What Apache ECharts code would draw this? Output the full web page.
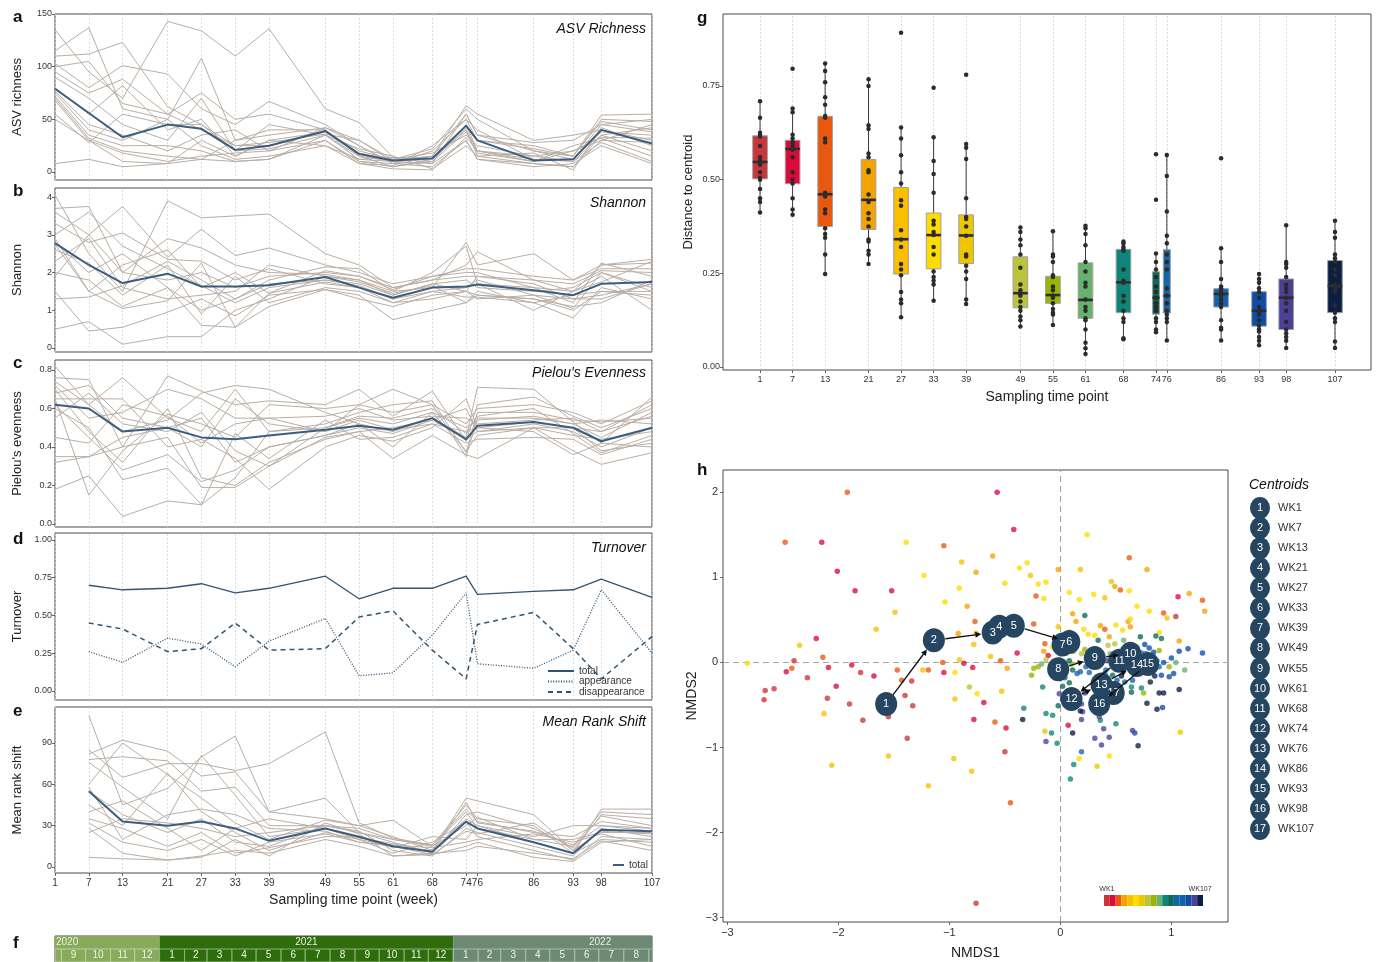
<!DOCTYPE html>
<html><head><meta charset="utf-8">
<script src="https://cdn.jsdelivr.net/npm/echarts@6/dist/echarts.min.js"></script>
<style>html,body{margin:0;padding:0;background:#fff}#c{width:1380px;height:962px}</style>
</head><body><div id="c"></div>
<script>
const FF = '"Liberation Sans", Arial, Helvetica, sans-serif';

// ---------- sampling weeks ----------
const weeks = [1,7,13,21,27,33,39,49,55,61,68,74,76,86,93,98,107];
const weeksShift = weeks.slice(1);

// ---------- panel a: ASV richness ----------
const asvMean = [79,56,33,45,41,21,25,39,17,11,13,44,30,11,12,40,27];
const asvLines = [
[135,95,70,143,134,110,136,60,47,14,12,40,20,12,10,35,42],
[115,137,60,50,108,30,35,42,30,10,8,55,35,20,12,45,50],
[110,112,123,62,45,25,25,38,20,12,15,63,55,30,35,40,30],
[103,80,101,93,60,45,67,45,25,8,20,50,30,25,15,54,55],
[95,75,88,55,75,50,55,40,15,5,10,45,20,10,20,30,45],
[90,70,45,30,70,20,45,35,12,10,12,40,15,8,5,35,20],
[80,55,82,40,50,15,30,38,18,12,18,35,25,15,10,28,10],
[77,45,35,20,35,40,20,30,10,8,5,30,12,5,8,25,8],
[75,40,30,50,25,12,15,25,8,6,25,50,40,12,12,38,35],
[72,35,25,25,20,10,12,35,22,15,3,25,15,18,2,42,25],
[70,32,20,15,12,30,40,40,10,5,12,42,30,22,15,48,40],
[68,30,18,10,15,18,20,42,25,8,10,38,18,10,25,32,15],
[55,28,55,45,45,20,22,35,15,10,15,55,35,28,30,45,38],
[50,30,10,8,30,15,30,25,12,14,8,30,12,8,5,30,28],
[8,12,5,8,12,10,12,30,8,3,2,33,20,15,20,33,32],
[100,105,65,55,40,25,28,36,30,12,22,60,50,20,15,50,48]
];

// ---------- panel b: Shannon ----------
const shannonMean = [2.78,2.2,1.72,1.97,1.63,1.63,1.66,1.88,1.6,1.33,1.6,1.63,1.68,1.53,1.4,1.7,1.75];
const shannonLines = [
[4.05,2.5,1.5,3.9,3.45,3.5,3.55,2.5,2.2,1.6,1.8,2.2,2.55,1.8,1.5,2.2,2.35],
[3.7,3.75,2.0,2.9,2.65,2.2,2.0,1.95,1.8,1.5,1.6,2.8,2.2,2.5,1.8,2.1,2.1],
[3.6,3.0,3.75,2.4,3.15,2.45,2.65,2.2,2.0,1.7,1.9,2.0,2.0,1.6,1.2,2.25,1.9],
[3.3,2.8,3.05,2.35,2.3,1.8,2.1,1.7,1.6,1.3,1.5,1.6,1.8,1.4,1.05,2.0,1.5],
[3.0,3.6,2.7,2.1,1.65,1.2,1.6,1.8,1.7,1.4,1.7,1.5,1.9,1.7,1.3,1.3,1.7],
[2.9,1.5,1.05,1.25,2.25,0.55,1.1,1.55,1.4,0.75,1.0,1.2,1.5,1.2,0.8,1.6,1.3],
[2.8,2.0,2.5,1.6,1.0,1.3,1.8,2.15,2.1,1.5,2.0,2.7,1.7,1.0,1.5,1.9,1.0],
[2.6,2.25,1.4,2.2,0.9,1.9,1.2,1.6,1.5,1.2,1.3,1.5,1.4,1.3,1.1,1.2,1.8],
[2.3,2.9,1.6,1.3,1.4,1.5,2.2,1.9,1.8,1.4,1.7,1.8,1.6,1.5,1.6,2.0,1.6],
[2.0,1.8,1.1,1.6,0.6,0.55,1.45,1.75,1.6,1.2,1.5,1.35,1.35,1.2,1.4,1.5,1.5],
[1.9,3.0,2.0,1.8,2.0,1.6,1.9,2.0,1.9,1.6,1.8,1.9,1.9,1.8,1.7,2.05,2.0],
[1.5,0.45,0.55,0.95,1.3,0.85,1.4,1.55,1.3,1.1,1.4,1.5,1.3,1.4,1.3,1.4,1.7],
[1.3,1.35,1.65,2.3,1.8,1.3,1.7,1.8,1.65,1.3,1.6,1.6,1.7,1.6,1.5,1.75,2.3],
[0.5,0.7,0.1,0.3,0.3,1.0,1.3,1.9,1.75,1.45,1.65,1.2,1.4,1.3,1.0,1.5,1.4],
[2.75,1.5,2.2,2.6,1.6,2.0,1.45,2.05,1.9,1.55,1.9,2.1,2.1,1.9,1.8,2.2,2.25]
];

// ---------- panel c: Pielou's evenness ----------
const pielouMean = [0.62,0.60,0.48,0.50,0.45,0.44,0.46,0.49,0.51,0.49,0.55,0.44,0.51,0.53,0.50,0.43,0.50];
const pielouLines = [
[0.82,0.62,0.48,0.54,0.68,0.72,0.70,0.58,0.52,0.48,0.55,0.45,0.71,0.70,0.53,0.42,0.66],
[0.76,0.75,0.40,0.77,0.69,0.62,0.64,0.62,0.70,0.56,0.69,0.43,0.62,0.66,0.56,0.50,0.60],
[0.74,0.62,0.76,0.55,0.48,0.70,0.48,0.52,0.58,0.62,0.64,0.37,0.58,0.58,0.54,0.53,0.55],
[0.72,0.55,0.58,0.70,0.65,0.55,0.55,0.48,0.62,0.70,0.62,0.35,0.55,0.55,0.52,0.54,0.52],
[0.70,0.48,0.32,0.60,0.24,0.20,0.32,0.44,0.48,0.34,0.46,0.36,0.34,0.50,0.38,0.31,0.37],
[0.65,0.65,0.65,0.40,0.44,0.34,0.18,0.40,0.46,0.43,0.50,0.65,0.50,0.48,0.36,0.42,0.40],
[0.62,0.45,0.28,0.36,0.22,0.28,0.40,0.46,0.52,0.40,0.58,0.38,0.46,0.50,0.50,0.38,0.42],
[0.60,0.50,0.23,0.29,0.10,0.47,0.34,0.54,0.44,0.45,0.52,0.42,0.44,0.45,0.44,0.36,0.44],
[0.55,0.68,0.52,0.48,0.58,0.38,0.30,0.50,0.56,0.55,0.60,0.47,0.56,0.60,0.47,0.37,0.46],
[0.45,0.42,0.62,0.56,0.42,0.52,0.55,0.56,0.60,0.54,0.56,0.55,0.52,0.54,0.55,0.48,0.62],
[0.35,0.35,0.40,0.45,0.19,0.19,0.30,0.45,0.48,0.50,0.54,0.60,0.48,0.52,0.48,0.40,0.50],
[0.32,0.35,0.45,0.50,0.55,0.32,0.40,0.46,0.50,0.47,0.54,0.44,0.48,0.50,0.46,0.44,0.48],
[0.18,0.25,0.04,0.12,0.10,0.24,0.48,0.50,0.55,0.52,0.58,0.50,0.54,0.56,0.52,0.45,0.58],
[0.65,0.15,0.38,0.57,0.52,0.45,0.62,0.60,0.62,0.58,0.62,0.52,0.60,0.62,0.58,0.52,0.64],
[0.68,0.72,0.55,0.50,0.40,0.65,0.52,0.48,0.54,0.49,0.52,0.48,0.50,0.53,0.50,0.48,0.56]
];

// ---------- panel d: turnover (weeks 7..107) ----------
const turnTotal = [0.70,0.67,0.68,0.71,0.65,0.68,0.76,0.61,0.68,0.68,0.76,0.64,0.66,0.67,0.74,0.62];
const turnAppear = [0.26,0.19,0.35,0.31,0.16,0.33,0.48,0.10,0.12,0.37,0.65,0.18,0.15,0.27,0.67,0.25];
const turnDisapp = [0.45,0.41,0.26,0.28,0.45,0.27,0.28,0.49,0.53,0.27,0.08,0.44,0.52,0.28,0.08,0.36];

// ---------- panel e: mean rank shift (weeks 7..107) ----------
const rankMean = [55,33,30,33,28,19,28,22,15,11,33,28,18,10,27,26];
const rankLines = [
[110,45,57,80,95,40,50,25,20,15,40,28,20,15,40,38],
[85,65,75,75,70,75,98,32,21,16,45,35,30,10,42,42],
[82,92,84,66,69,40,35,30,22,12,50,48,38,12,38,35],
[78,80,77,55,58,30,30,25,18,10,38,40,28,14,37,30],
[76,58,35,81,52,22,28,20,15,12,35,30,22,30,30,28],
[60,90,67,50,32,20,34,30,34,15,30,36,20,20,25,25],
[55,38,25,35,18,15,30,26,12,8,28,25,15,8,28,22],
[45,30,68,40,25,12,25,20,10,18,33,22,12,5,22,20],
[35,28,15,25,10,14,22,22,14,22,20,30,18,10,20,18],
[32,18,12,20,8,18,24,18,16,14,18,20,24,18,24,15],
[28,10,5,8,12,10,20,15,8,10,12,15,10,6,19,12],
[25,35,32,28,22,25,30,28,20,16,42,33,25,22,33,28],
[7,6,5,7,20,8,32,24,8,9,15,18,7,4,18,20],
[58,20,38,42,38,28,26,18,15,9,26,24,32,12,26,24],
[40,48,28,12,28,35,28,21,17,11,47,32,26,16,30,26]
];

// ---------- panel f: calendar ----------
const calYears = ['2020','2021','2022'];
const calYearDays = [366,365,365];
const calMonthLabels = ['','9','10','11','12','1','2','3','4','5','6','7','8','9','10','11','12','1','2','3','4','5','6','7','8',''];
const calMonthYear = [0,0,0,0,0,1,1,1,1,1,1,1,1,1,1,1,1,2,2,2,2,2,2,2,2,2];
const calMonthDays = [8,30,31,30,31,31,28,31,30,31,30,31,31,30,31,30,31,31,28,31,30,31,30,31,31,30];
const calYearFill = ['#88ab5b','#2e6d0b','#6c8a73'];
const calMonthStroke = ['#bcd2a3','#8db378','#a9bdad'];

// ---------- panel g: distance to centroid ----------
const weekColors = ['#c8363a','#dc0a3c','#e8580f','#f5a300','#fbbf00','#ffdc00','#edc600','#bcc43c','#9bb400','#66b26c','#0f857a','#0b6a5a','#1466a8','#1460ad','#0c4ea6','#4b3f98','#0c1e42'];
const boxMin = [0.412,0.406,0.248,0.275,0.133,0.177,0.168,0.108,0.112,0.035,0.074,0.093,0.071,0.071,0.058,0.051,0.051];
const boxQ1  = [0.502,0.489,0.375,0.367,0.248,0.262,0.276,0.158,0.170,0.130,0.145,0.141,0.144,0.160,0.109,0.100,0.145];
const boxMed = [0.547,0.582,0.461,0.446,0.341,0.352,0.351,0.197,0.192,0.179,0.226,0.185,0.190,0.195,0.150,0.185,0.216];
const boxQ3  = [0.617,0.605,0.669,0.554,0.479,0.411,0.406,0.294,0.242,0.278,0.314,0.254,0.313,0.209,0.201,0.235,0.284];
const boxMax = [0.709,0.690,0.810,0.768,0.639,0.613,0.595,0.372,0.362,0.377,0.335,0.303,0.566,0.317,0.248,0.378,0.390];
const distDots = [
[0.709,0.665,0.625,0.62,0.615,0.59,0.56,0.55,0.545,0.54,0.52,0.505,0.50,0.475,0.45,0.44,0.412],
[0.796,0.69,0.68,0.62,0.61,0.60,0.59,0.582,0.58,0.56,0.52,0.50,0.49,0.45,0.42,0.406],
[0.81,0.79,0.76,0.72,0.70,0.67,0.665,0.61,0.60,0.465,0.455,0.42,0.41,0.37,0.355,0.345,0.30,0.248],
[0.768,0.75,0.645,0.635,0.57,0.56,0.525,0.52,0.46,0.44,0.41,0.395,0.375,0.34,0.335,0.31,0.30,0.275],
[0.892,0.639,0.61,0.565,0.52,0.49,0.445,0.43,0.365,0.34,0.32,0.275,0.26,0.245,0.20,0.18,0.17,0.133],
[0.745,0.613,0.55,0.515,0.465,0.39,0.38,0.36,0.352,0.32,0.30,0.255,0.24,0.23,0.22,0.177],
[0.78,0.595,0.585,0.555,0.45,0.40,0.395,0.375,0.35,0.30,0.295,0.27,0.255,0.235,0.18,0.168],
[0.372,0.36,0.34,0.325,0.30,0.265,0.22,0.205,0.195,0.19,0.175,0.16,0.15,0.135,0.125,0.108],
[0.362,0.30,0.295,0.28,0.245,0.24,0.215,0.205,0.19,0.185,0.17,0.155,0.145,0.14,0.112],
[0.377,0.37,0.355,0.325,0.28,0.255,0.225,0.215,0.18,0.16,0.15,0.13,0.125,0.10,0.065,0.05,0.035],
[0.335,0.33,0.32,0.315,0.31,0.26,0.23,0.225,0.19,0.175,0.15,0.13,0.12,0.077,0.074],
[0.568,0.446,0.303,0.28,0.26,0.24,0.215,0.20,0.185,0.17,0.16,0.15,0.13,0.12,0.10,0.093],
[0.566,0.51,0.415,0.35,0.33,0.30,0.28,0.26,0.21,0.19,0.17,0.15,0.14,0.13,0.12,0.071],
[0.557,0.317,0.28,0.235,0.215,0.21,0.20,0.195,0.19,0.18,0.17,0.16,0.125,0.105,0.10,0.071],
[0.248,0.235,0.225,0.21,0.20,0.185,0.16,0.15,0.14,0.125,0.11,0.10,0.095,0.08,0.07,0.058],
[0.378,0.28,0.275,0.265,0.24,0.22,0.21,0.20,0.185,0.17,0.15,0.12,0.10,0.09,0.08,0.07,0.051],
[0.39,0.36,0.345,0.30,0.29,0.28,0.26,0.245,0.22,0.21,0.20,0.165,0.145,0.13,0.12,0.068,0.051]
];

// ---------- panel h: NMDS ----------
const nmdsPoints = [
[[-2.4,0.02],[-2.28,-0.18],[-1.8,-0.12],[-2.1,-0.42],[-1.9,-0.49],[-2.66,-0.33],[-2.58,-0.31],[-2.67,-0.44],[-1.78,-0.68],[-1.55,-0.64],[-1.4,-0.39],[-1.34,-0.22],[-1.33,-0.51],[-1.38,-0.89],[-0.5,-1.05],[-0.76,-2.83],[1.04,0.54]],
[[-0.57,2.0],[-2.15,1.41],[-0.42,1.56],[-2.01,1.07],[-1.85,0.84],[-1.52,0.84],[-2.2,0.28],[-2.47,-0.11],[-2.09,-0.06],[-1.88,-0.03],[-1.68,-0.16],[-2.02,-0.28],[-1.05,-0.12],[-0.87,-0.01],[-0.79,-0.06],[-0.39,0.11],[-0.69,-0.47],[-0.78,-0.67],[-0.49,-0.77],[-0.11,0.08],[0.07,-0.74],[1.06,0.77]],
[[-1.92,2.0],[-2.48,1.41],[-1.05,1.37],[-2.42,-0.07],[-2.14,0.06],[-1.43,-0.21],[-1.47,-0.09],[-1.19,-0.09],[-1.06,0.0],[-0.77,0.48],[-0.54,0.02],[-0.59,-0.7],[-0.45,-1.65],[-0.22,0.78],[-0.24,0.45],[-0.14,0.22],[0.62,1.23],[0.54,0.85],[0.93,0.58],[1.28,0.73],[0.4,0.39]],
[[-0.61,1.25],[-0.76,1.06],[-0.02,1.09],[0.78,1.09],[0.49,0.89],[1.16,0.81],[1.3,0.6],[0.61,0.48],[-0.84,0.66],[-0.76,0.34],[-0.92,0.34],[-0.48,-0.07],[-0.15,0.13],[0.11,0.57],[0.14,0.48],[0.36,0.43],[0.44,0.3],[0.63,0.42],[1.07,0.25]],
[[-0.89,1.18],[-1.49,0.59],[-1.66,0.39],[-1.24,-0.09],[-0.78,0.21],[-0.63,0.07],[-0.53,-0.34],[-0.95,-0.43],[-0.8,-1.28],[-1.55,-1.1],[-2.06,-1.21],[-1.19,-1.45],[-2.13,-0.6],[0.18,1.09],[0.4,0.76]],
[[-1.39,1.41],[-0.3,1.17],[-1.23,1.02],[-0.37,1.11],[-0.13,0.94],[-0.2,0.92],[0.24,1.5],[-0.91,0.87],[-0.5,0.93],[-0.15,0.75],[0.08,0.82],[0.3,0.8],[0.17,0.74],[0.62,0.84],[0.69,0.66],[0.8,0.6],[0.63,0.51],[-1.04,0.71],[-2.82,-0.01],[-0.95,-0.12],[-0.75,-0.37],[-0.07,0.18],[0.08,0.36],[0.21,0.39],[0.25,0.33],[0.31,0.32],[0.5,0.44],[0.56,0.38],[0.89,0.35],[0.17,-1.13],[0.44,-1.1]],
[[-0.27,1.02],[0.46,0.95],[0.96,0.52],[-2.35,0.2],[-0.91,0.03],[-0.96,-1.13],[-0.14,-0.81],[0.33,-1.22],[1.08,-0.82],[-0.02,0.42],[0.0,0.2]],
[[-0.82,-0.29],[-0.13,0.03],[0.12,0.13],[0.43,0.2],[0.49,0.22],[0.19,0.1],[0.3,0.05],[-0.05,-0.1]],
[[-0.2,-0.05],[-0.24,-0.07],[-0.26,-0.15],[0.22,0.15],[0.89,0.14],[0.75,-0.36],[0.98,-0.05],[0.1,-0.02]],
[[-0.17,-0.02],[0.57,0.26],[1.12,-0.09],[1.04,0.0],[0.33,0.13],[0.69,0.18],[0.45,0.1]],
[[-0.16,-0.29],[-0.33,-0.54],[-0.13,-0.6],[-0.07,-0.62],[-0.08,-0.83],[-0.03,-0.95],[0.12,-1.2],[0.09,-1.37],[0.5,-0.72],[0.36,-0.68],[0.64,-0.29],[0.73,-0.3]],
[[0.22,0.55],[0.91,0.28],[0.86,0.31],[0.72,0.3],[0.62,0.17],[0.34,0.26],[0.08,0.02],[0.11,-0.09],[0.04,-0.18],[0.02,-0.28],[0.08,-0.24],[-0.02,-0.51],[0.64,-0.35],[0.47,-0.15]],
[[0.26,-0.12],[0.3,-0.04],[0.49,-0.05],[0.56,0.02],[0.59,0.07],[0.73,0.11],[0.82,0.05],[0.89,-0.05],[0.73,0.02],[0.19,-1.05]],
[[0.15,-0.13],[0.18,-0.11],[0.37,-0.17],[0.4,-0.13],[0.51,-0.21],[0.58,-0.23],[0.65,-0.21],[0.23,-0.05],[0.41,-0.09],[0.77,0.1],[0.87,0.02]],
[[1.0,0.05],[1.07,0.13],[1.15,0.16],[1.28,0.11],[0.76,0.21],[0.8,0.17],[0.84,0.12],[0.93,0.0],[0.81,-0.1],[0.75,-0.06],[0.91,-0.15],[0.98,-0.17],[1.02,-0.13],[0.92,-0.53],[0.67,-0.83]],
[[-0.13,-0.93],[0.31,-0.89],[0.37,-0.97],[0.39,-0.78],[0.44,-0.88],[0.65,-0.8],[0.35,-0.64],[0.2,-0.58],[0.19,-0.49],[0.22,-0.36],[-0.01,-0.37],[0.02,-0.43],[0.19,-0.67],[0.33,-0.53],[0.33,-0.19],[0.42,0.02]],
[[-0.34,-0.67],[0.11,-0.83],[0.7,-0.98],[0.78,-0.48],[0.87,-0.55],[0.89,-0.36],[0.93,-0.36],[1.07,-0.32],[0.81,-0.23],[0.85,-0.16],[0.55,-0.16],[0.83,-0.02],[0.18,-0.57]]
];
const centX = [-1.57,-1.14,-0.61,-0.55,-0.42,0.08,0.02,-0.02,0.31,0.63,0.53,0.10,0.37,0.69,0.79,0.35,0.48];
const centY = [-0.49,0.26,0.35,0.42,0.43,0.24,0.21,-0.08,0.05,0.10,0.02,-0.43,-0.26,-0.03,-0.02,-0.49,-0.36];
const centLabels = weeks.map(w => 'WK' + w);

// ================= build =================
const GREY = '#b9aea5', BLUE = '#3a5e80', CENT = '#254560', TURN = '#2f5575';
const grids = [
  {left:55, top:14, width:597, height:166},
  {left:55, top:188, width:597, height:164},
  {left:55, top:360, width:597, height:167},
  {left:55, top:533, width:597, height:167},
  {left:55, top:707, width:597, height:166},
  {left:55, top:936, width:597, height:28},
  {left:723, top:14, width:648, height:356},
  {left:723, top:470, width:505, height:452},
  {left:1250, top:498, width:20, height:341},
  {left:1104, top:895, width:99, height:11}
].map((g, i) => Object.assign(g, {show: [0,1,2,3,4,5,6,7].includes(i), borderColor:'#4a4a4a', borderWidth:1, containLabel:false}));

const tickStyle = {length:3, lineStyle:{color:'#444', width:0.8}};
const noLine = {show:false, onZero:false};
function leftX(gi, labels) {
  return {type:'value', gridIndex:gi, min:1, max:107, axisLine:noLine, splitLine:{show:false},
    axisTick: labels ? Object.assign({show:true, customValues:weeks}, tickStyle) : {show:false},
    axisLabel: labels ? {show:true, customValues:weeks, fontSize:10, color:'#333', margin:5, fontFamily:FF} : {show:false},
    name: labels ? 'Sampling time point (week)' : '', nameLocation:'middle', nameGap:20,
    nameTextStyle:{fontSize:14, color:'#222', fontFamily:FF}};
}
function yAx(gi, min, max, ticks, name, dec, gap) {
  return {type:'value', gridIndex:gi, min, max, axisLine:noLine, splitLine:{show:false},
    axisTick: Object.assign({show:true, customValues:ticks}, tickStyle),
    axisLabel: {customValues:ticks, fontSize:9, color:'#333', margin:3, fontFamily:FF,
      formatter: v => dec == null ? String(Math.round(v)) : Number(v).toFixed(dec)},
    name, nameLocation:'middle', nameGap: gap || 31, nameTextStyle:{fontSize:13, color:'#222', fontFamily:FF}};
}

const xAxes = [
  leftX(0,false), leftX(1,false), leftX(2,false), leftX(3,false), leftX(4,true),
  {type:'value', gridIndex:5, min:1, max:107, show:false},
  {type:'value', gridIndex:6, min:-5.83, max:113.64, axisLine:noLine, splitLine:{show:false},
    axisTick: Object.assign({show:true, customValues:weeks}, tickStyle),
    axisLabel:{customValues:weeks, fontSize:9, color:'#333', margin:5, fontFamily:FF},
    name:'Sampling time point', nameLocation:'middle', nameGap:20, nameTextStyle:{fontSize:14, color:'#222', fontFamily:FF}},
  {type:'value', gridIndex:7, min:-3.04, max:1.51, axisLine:noLine, splitLine:{show:false},
    axisTick: Object.assign({show:true, customValues:[-3,-2,-1,0,1]}, tickStyle),
    axisLabel:{customValues:[-3,-2,-1,0,1], fontSize:11, color:'#333', margin:5, fontFamily:FF,
      formatter: v => v < 0 ? '\u2212' + Math.abs(v) : String(v)},
    name:'NMDS1', nameLocation:'middle', nameGap:24, nameTextStyle:{fontSize:14, color:'#222', fontFamily:FF}},
  {type:'value', gridIndex:8, min:-1, max:1, show:false},
  {type:'category', gridIndex:9, data:centLabels, position:'top', axisLine:{show:false}, axisTick:{show:false},
    axisLabel:{interval:(i) => i === 0 || i === centLabels.length - 1, fontSize:7, color:'#333', margin:2, fontFamily:FF}}
];
const yAxes = [
  yAx(0, -7.6, 150, [0,50,100,150], 'ASV richness'),
  yAx(1, -0.106, 4.24, [0,1,2,3,4], 'Shannon'),
  yAx(2, -0.0156, 0.852, [0,0.2,0.4,0.6,0.8], "Pielou's evenness", 1),
  yAx(3, -0.06, 1.046, [0,0.25,0.5,0.75,1], 'Turnover', 2),
  yAx(4, -4.35, 116.1, [0,30,60,90], 'Mean rank shift'),
  {type:'value', gridIndex:5, min:0, max:2, show:false},
  yAx(6, -0.008, 0.942, [0,0.25,0.5,0.75], 'Distance to centroid', 2, 28),
  {type:'value', gridIndex:7, min:-3.05, max:2.26, axisLine:noLine, splitLine:{show:false},
    axisTick: Object.assign({show:true, customValues:[-3,-2,-1,0,1,2]}, tickStyle),
    axisLabel:{customValues:[-3,-2,-1,0,1,2], fontSize:11, color:'#333', margin:5, fontFamily:FF,
      formatter: v => v < 0 ? '\u2212' + Math.abs(v) : String(v)},
    name:'NMDS2', nameLocation:'middle', nameGap:24, nameTextStyle:{fontSize:14, color:'#222', fontFamily:FF}},
  {type:'category', gridIndex:8, data:centLabels, inverse:true, position:'right', axisLine:noLine, axisTick:{show:false},
    axisLabel:{fontSize:11, color:'#333', margin:8, fontFamily:FF}},
  {type:'value', gridIndex:9, min:0, max:1, show:false}
];

function vLines(extra) {
  return Object.assign({silent:true, symbol:'none', label:{show:false}, animation:false, z:1,
    lineStyle:{type:[2,2], color:'#d4d4d4', width:0.8},
    data: weeks.map(w => ({xAxis:w}))}, extra || {});
}

const series = [];
function addPanel(gi, xs, lines, mean, meanName) {
  lines.forEach((ln, k) => {
    const s = {type:'line', xAxisIndex:gi, yAxisIndex:gi, data: xs.map((w,i) => [w, ln[i]]),
      symbol:'none', silent:true, itemStyle:{color:GREY}, lineStyle:{color:GREY, width:1}, z:2};
    if (k === 0) s.markLine = vLines();
    series.push(s);
  });
  series.push({type:'line', name:meanName, xAxisIndex:gi, yAxisIndex:gi, data: xs.map((w,i) => [w, mean[i]]),
    symbol:'none', silent:true, itemStyle:{color:BLUE}, lineStyle:{color:BLUE, width:2}, z:5});
}
addPanel(0, weeks, asvLines, asvMean, 'meanA');
addPanel(1, weeks, shannonLines, shannonMean, 'meanB');
addPanel(2, weeks, pielouLines, pielouMean, 'meanC');

// panel d
series.push({type:'line', name:'total', xAxisIndex:3, yAxisIndex:3, data: weeksShift.map((w,i)=>[w, turnTotal[i]]),
  symbol:'none', itemStyle:{color:TURN}, lineStyle:{color:TURN, width:1.3}, z:5, markLine: vLines()});
series.push({type:'line', name:'appearance', xAxisIndex:3, yAxisIndex:3, data: weeksShift.map((w,i)=>[w, turnAppear[i]]),
  symbol:'none', itemStyle:{color:TURN}, lineStyle:{color:TURN, width:1.3, type:[1,1.6]}, z:5});
series.push({type:'line', name:'disappearance', xAxisIndex:3, yAxisIndex:3, data: weeksShift.map((w,i)=>[w, turnDisapp[i]]),
  symbol:'none', itemStyle:{color:TURN}, lineStyle:{color:TURN, width:1.5, type:[5,4]}, z:5});

addPanel(4, weeksShift, rankLines, rankMean, 'total ');

// panel f calendar
const monthCells = [];
let dacc = 0;
calMonthDays.forEach((n, i) => { monthCells.push([1 + dacc/7, 1 + (dacc + n)/7, i]); dacc += n; });
let daysBefore = 0;
for (let i = 0; i < calMonthDays.length && calMonthYear[i] === 0; i++) daysBefore += calMonthDays[i];
const yearCells = [];
let ys = 1 + daysBefore/7 - calYearDays[0]/7;
calYears.forEach((y, i) => { const ye = ys + calYearDays[i]/7; yearCells.push([ys, ye, i]); ys = ye; });

series.push({type:'custom', xAxisIndex:5, yAxisIndex:5, clip:true, silent:true, data: yearCells, encode:{x:[0,1]},
  renderItem: (params, api) => {
    const s = api.value(0), e = api.value(1), yi = api.value(2);
    const p0 = api.coord([s, 2]), p1 = api.coord([e, 1]);
    const c = (s + e) / 2;
    let tx, align;
    if (c < 1) { tx = api.coord([1, 1.5])[0] + 1; align = 'left'; } else { tx = api.coord([c, 1.5])[0]; align = 'center'; }
    const ty = api.coord([c, 1.5])[1];
    return {type:'group', children:[
      {type:'rect', shape:{x:p0[0], y:p0[1], width:p1[0]-p0[0], height:p1[1]-p0[1]}, style:{fill:calYearFill[yi]}},
      {type:'text', x:tx, y:ty, style:{text:calYears[yi], fill:'#e9efe2', fontSize:10, fontFamily:FF, align, verticalAlign:'middle'}}
    ]};
  }});
series.push({type:'custom', xAxisIndex:5, yAxisIndex:5, clip:true, silent:true, data: monthCells, encode:{x:[0,1]},
  renderItem: (params, api) => {
    const s = api.value(0), e = api.value(1), mi = api.value(2);
    const yi = calMonthYear[mi];
    const p0 = api.coord([s, 1]), p1 = api.coord([e, 0]);
    return {type:'group', children:[
      {type:'rect', shape:{x:p0[0], y:p0[1], width:p1[0]-p0[0], height:p1[1]-p0[1]}, style:{fill:calYearFill[yi], stroke:calMonthStroke[yi], lineWidth:1}},
      {type:'text', x:(p0[0]+p1[0])/2, y:(p0[1]+p1[1])/2, style:{text:calMonthLabels[mi], fill:'#eef3e8', fontSize:10, fontFamily:FF, align:'center', verticalAlign:'middle'}}
    ]};
  }});

// panel g boxes
const boxData = weeks.map((w, i) => [w, boxMin[i], boxQ1[i], boxMed[i], boxQ3[i], boxMax[i], i]);
series.push({type:'custom', xAxisIndex:6, yAxisIndex:6, silent:true, data: boxData, encode:{x:0, y:[1,5]}, z:3,
  markLine: vLines(),
  renderItem: (params, api) => {
    const i = api.value(6), w = api.value(0);
    let gap = 1e9;
    if (i > 0) gap = Math.min(gap, w - weeks[i-1]);
    if (i < weeks.length - 1) gap = Math.min(gap, weeks[i+1] - w);
    const half = Math.min(2.7, gap * 0.65) / 2;
    const pMin = api.coord([w, api.value(1)]), pQ1 = api.coord([w, api.value(2)]), pMed = api.coord([w, api.value(3)]),
          pQ3 = api.coord([w, api.value(4)]), pMax = api.coord([w, api.value(5)]);
    const xl = api.coord([w - half, 0])[0], xr = api.coord([w + half, 0])[0];
    return {type:'group', children:[
      {type:'line', shape:{x1:pMin[0], y1:pMin[1], x2:pMax[0], y2:pMax[1]}, style:{stroke:'#3a3a3a', lineWidth:1}},
      {type:'rect', shape:{x:xl, y:pQ3[1], width:xr-xl, height:pQ1[1]-pQ3[1]}, style:{fill:weekColors[i], stroke:'#a0a0a0', lineWidth:1}},
      {type:'line', shape:{x1:xl, y1:pMed[1], x2:xr, y2:pMed[1]}, style:{stroke:'#2e2e2e', lineWidth:2.6}}
    ]};
  }});
const dotData = [];
weeks.forEach((w, i) => distDots[i].forEach(v => dotData.push([w, v])));
series.push({type:'scatter', xAxisIndex:6, yAxisIndex:6, silent:true, data: dotData, symbolSize:4.5,
  itemStyle:{color:'#2b2b2b', opacity:1}, z:6});

// panel h
nmdsPoints.forEach((pts, i) => {
  const s = {type:'scatter', xAxisIndex:7, yAxisIndex:7, silent:true, data: pts, symbolSize:5.5,
    itemStyle:{color:weekColors[i], opacity:0.78}, z:3};
  if (i === 0) s.markLine = {silent:true, symbol:'none', label:{show:false}, z:1, lineStyle:{type:[6,4], color:'#a8a8a8', width:1.2},
    data:[{xAxis:0},{yAxis:0}]};
  series.push(s);
});
series.push({type:'scatter', xAxisIndex:7, yAxisIndex:7, silent:true, data: centX.map((x,i)=>[x, centY[i]]),
  symbolSize:[22,24], itemStyle:{color:CENT, opacity:1}, z:6,
  label:{show:true, position:'inside', formatter: p => String(p.dataIndex + 1), color:'#fff', fontSize:11, fontFamily:FF}});
series.push({type:'custom', xAxisIndex:7, yAxisIndex:7, silent:true, z:7,
  data: centX.slice(0, -1).map((x, i) => [x, centY[i], centX[i+1], centY[i+1]]), encode:{x:[0,2], y:[1,3]},
  renderItem: (params, api) => {
    const a = api.coord([api.value(0), api.value(1)]), b = api.coord([api.value(2), api.value(3)]);
    const dx = b[0]-a[0], dy = b[1]-a[1], len = Math.hypot(dx, dy), r = 11.5;
    if (len < 2*r + 5) return null;
    const ux = dx/len, uy = dy/len;
    const s = [a[0]+ux*r, a[1]+uy*r], e = [b[0]-ux*r, b[1]-uy*r];
    const ah = 6, aw = 3;
    const bx = e[0]-ux*ah, by = e[1]-uy*ah;
    return {type:'group', children:[
      {type:'line', shape:{x1:s[0], y1:s[1], x2:bx, y2:by}, style:{stroke:'#111', lineWidth:1.3}},
      {type:'polygon', shape:{points:[[e[0],e[1]],[bx-uy*aw, by+ux*aw],[bx+uy*aw, by-ux*aw]]}, style:{fill:'#111'}}
    ]};
  }});
// centroid key
series.push({type:'scatter', xAxisIndex:8, yAxisIndex:8, silent:true, data: centLabels.map((_, i) => [0, i]),
  symbolSize:[20,22], itemStyle:{color:CENT, opacity:1},
  label:{show:true, position:'inside', formatter: p => String(p.dataIndex + 1), color:'#fff', fontSize:11, fontFamily:FF}});
// colour key
series.push({type:'bar', xAxisIndex:9, yAxisIndex:9, silent:true, barWidth:'100%',
  data: weekColors.map(c => ({value:1, itemStyle:{color:c}}))});

const letter = {fontSize:17, fontWeight:'bold', color:'#111', fontFamily:FF};
const ptitle = {fontSize:14, fontStyle:'italic', fontWeight:'normal', color:'#111', fontFamily:FF};
const titles = [
  {text:'a', left:13, top:9, padding:0, textStyle:letter},
  {text:'b', left:13, top:183, padding:0, textStyle:letter},
  {text:'c', left:13, top:355, padding:0, textStyle:letter},
  {text:'d', left:13, top:531, padding:0, textStyle:letter},
  {text:'e', left:13, top:703, padding:0, textStyle:letter},
  {text:'f', left:13, top:935, padding:0, textStyle:letter},
  {text:'g', left:697, top:10, padding:0, textStyle:letter},
  {text:'h', left:697, top:462, padding:0, textStyle:letter},
  {text:'ASV Richness', right:734, top:22, padding:0, textStyle:ptitle},
  {text:'Shannon', right:734, top:196, padding:0, textStyle:ptitle},
  {text:"Pielou's Evenness", right:734, top:366, padding:0, textStyle:ptitle},
  {text:'Turnover', right:734, top:541, padding:0, textStyle:ptitle},
  {text:'Mean Rank Shift', right:734, top:715, padding:0, textStyle:ptitle},
  {text:'Centroids', left:1249, top:478, padding:0, textStyle:ptitle}
];

const option = {
  animation:false,
  backgroundColor:'#fff',
  textStyle:{fontFamily:FF},
  title: titles,
  legend: [
    {data:['total','appearance','disappearance'], orient:'vertical', left:547, top:666, itemGap:0.5, itemWidth:26, itemHeight:7,
      padding:0, selectedMode:false, itemStyle:{opacity:0}, textStyle:{fontSize:10, color:'#333', fontFamily:FF, lineHeight:8}},
    {data:['total '], left:612, top:860, itemWidth:11, itemHeight:8, padding:0, selectedMode:false, itemStyle:{opacity:0},
      formatter: n => n.trim(), textStyle:{fontSize:10, color:'#333', fontFamily:FF}}
  ],
  grid: grids,
  xAxis: xAxes,
  yAxis: yAxes,
  series
};
const chart = echarts.init(document.getElementById('c'));
chart.setOption(option);
</script></body></html>
